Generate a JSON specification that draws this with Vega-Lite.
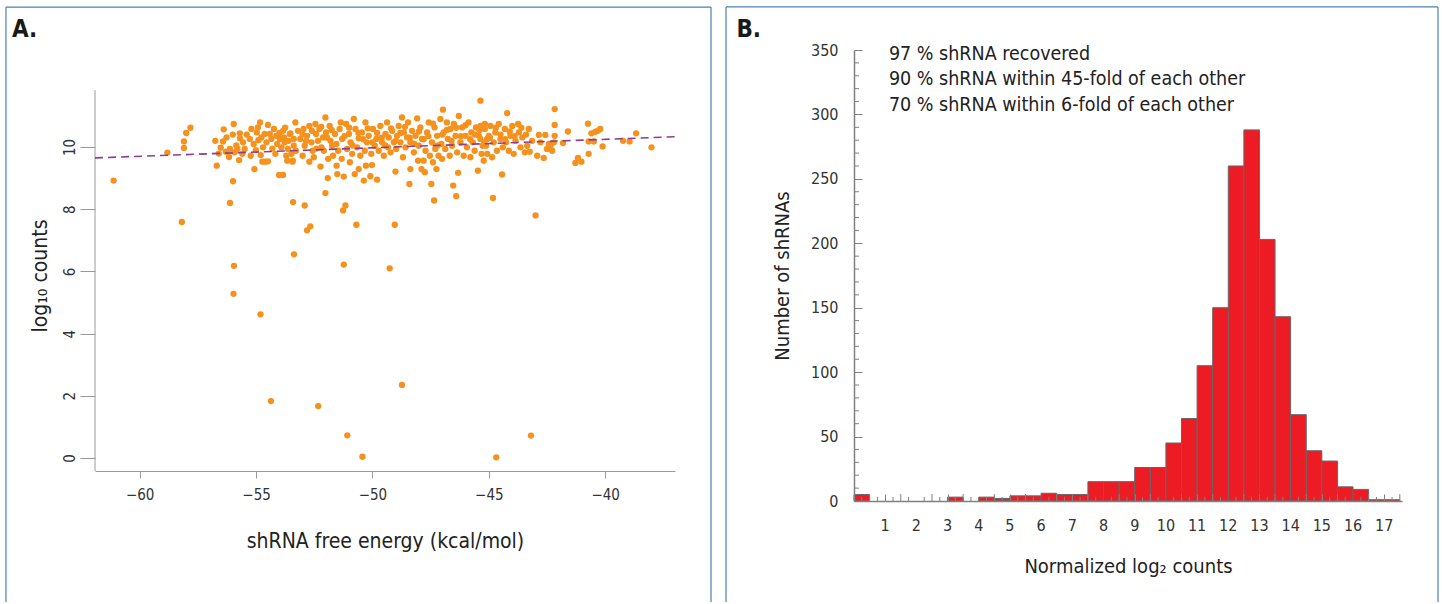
{
  "$schema": "https://vega.github.io/schema/vega-lite/v6.json",
  "autosize": {"type": "pad"},
  "padding": {"left": 5, "top": 6, "right": 0, "bottom": 0},
  "background": "white",
  "spacing": 13,
  "bounds": "full",
  "config": {
    "view": {"stroke": null},
    "axis": {"grid": false, "labelFont": "DejaVu Sans Condensed, Roboto Condensed, Roboto, sans-serif", "titleFont": "DejaVu Sans Condensed, Roboto Condensed, Roboto, sans-serif", "titleFontWeight": "normal", "labelColor": "#333333", "titleColor": "#222222"},
    "text": {"font": "DejaVu Sans Condensed, Roboto Condensed, Roboto, sans-serif"}
  },
  "hconcat": [
    {
      "width": 580,
      "height": 451,
      "layer": [
        {
          "data": {"values": [
{"energy":-61.12,"counts":8.92},{"energy":-58.81,"counts":9.82},{"energy":-58.19,"counts":7.59},{"energy":-58.10,"counts":9.97},{"energy":-58.10,"counts":10.18},{"energy":-58.00,"counts":10.45},{"energy":-57.82,"counts":10.62},{"energy":-56.75,"counts":10.20},{"energy":-56.69,"counts":9.40},{"energy":-56.60,"counts":9.79},{"energy":-56.52,"counts":9.98},{"energy":-56.42,"counts":10.18},{"energy":-56.39,"counts":10.57},{"energy":-56.27,"counts":10.31},{"energy":-56.16,"counts":9.68},{"energy":-56.12,"counts":9.94},{"energy":-56.12,"counts":8.20},{"energy":-55.99,"counts":8.90},{"energy":-55.96,"counts":10.74},{"energy":-55.92,"counts":9.83},{"energy":-55.80,"counts":9.94},{"energy":-55.73,"counts":9.58},{"energy":-55.70,"counts":10.44},{"energy":-55.69,"counts":10.28},{"energy":-55.59,"counts":9.78},{"energy":-55.56,"counts":10.15},{"energy":-55.49,"counts":9.94},{"energy":-55.27,"counts":10.26},{"energy":-55.23,"counts":9.72},{"energy":-55.20,"counts":10.58},{"energy":-55.07,"counts":9.29},{"energy":-55.01,"counts":9.90},{"energy":-54.97,"counts":10.47},{"energy":-54.92,"counts":10.63},{"energy":-54.83,"counts":10.79},{"energy":-54.80,"counts":9.74},{"energy":-54.77,"counts":10.31},{"energy":-54.73,"counts":9.53},{"energy":-54.70,"counts":9.99},{"energy":-54.63,"counts":10.42},{"energy":-54.60,"counts":9.53},{"energy":-54.49,"counts":9.54},{"energy":-54.49,"counts":10.71},{"energy":-54.41,"counts":10.42},{"energy":-54.34,"counts":10.26},{"energy":-54.23,"counts":10.58},{"energy":-54.17,"counts":9.78},{"energy":-54.13,"counts":10.36},{"energy":-54.09,"counts":10.10},{"energy":-54.01,"counts":9.10},{"energy":-53.97,"counts":10.26},{"energy":-53.91,"counts":9.99},{"energy":-53.84,"counts":9.10},{"energy":-53.84,"counts":10.52},{"energy":-53.80,"counts":10.31},{"energy":-53.77,"counts":10.15},{"energy":-53.70,"counts":9.72},{"energy":-53.66,"counts":9.56},{"energy":-53.63,"counts":9.94},{"energy":-53.55,"counts":10.42},{"energy":-53.48,"counts":9.78},{"energy":-53.44,"counts":9.53},{"energy":-53.41,"counts":8.23},{"energy":-53.37,"counts":6.55},{"energy":-53.38,"counts":10.26},{"energy":-53.38,"counts":10.04},
{"energy":-53.52,"counts":10.44},{"energy":-53.42,"counts":9.56},{"energy":-53.31,"counts":10.79},{"energy":-53.29,"counts":9.88},{"energy":-53.20,"counts":10.52},{"energy":-53.10,"counts":10.26},{"energy":-53.00,"counts":9.72},{"energy":-52.96,"counts":10.58},{"energy":-52.91,"counts":8.12},{"energy":-52.91,"counts":10.04},{"energy":-52.81,"counts":10.36},{"energy":-52.81,"counts":7.32},{"energy":-52.71,"counts":10.68},{"energy":-52.71,"counts":9.53},{"energy":-52.67,"counts":7.45},{"energy":-52.62,"counts":10.15},{"energy":-52.57,"counts":9.88},{"energy":-52.52,"counts":9.67},{"energy":-52.45,"counts":10.74},{"energy":-52.42,"counts":10.42},{"energy":-52.34,"counts":10.20},{"energy":-52.28,"counts":10.58},{"energy":-52.23,"counts":9.37},{"energy":-52.19,"counts":9.99},{"energy":-52.12,"counts":10.31},{"energy":-52.09,"counts":9.88},{"energy":-52.02,"counts":10.95},{"energy":-52.02,"counts":8.52},{"energy":-51.99,"counts":10.47},{"energy":-51.92,"counts":9.00},{"energy":-51.90,"counts":9.62},{"energy":-51.84,"counts":10.68},{"energy":-51.80,"counts":10.20},{"energy":-51.73,"counts":10.04},{"energy":-51.69,"counts":9.72},{"energy":-51.61,"counts":10.42},{"energy":-51.54,"counts":9.40},{"energy":-51.51,"counts":9.13},{"energy":-51.47,"counts":9.88},{"energy":-51.41,"counts":10.58},{"energy":-51.36,"counts":10.79},{"energy":-51.32,"counts":9.62},{"energy":-51.30,"counts":10.26},{"energy":-51.26,"counts":7.96},{"energy":-51.23,"counts":9.05},{"energy":-51.16,"counts":8.12},{"energy":-51.13,"counts":10.74},{"energy":-51.09,"counts":9.94},{"energy":-51.01,"counts":10.42},{"energy":-50.97,"counts":9.51},{"energy":-50.94,"counts":10.15},{"energy":-50.87,"counts":9.78},{"energy":-50.80,"counts":10.90},{"energy":-50.76,"counts":9.13},{"energy":-50.73,"counts":10.58},{"energy":-50.69,"counts":7.50},{"energy":-50.66,"counts":9.99},{"energy":-50.59,"counts":10.28},{"energy":-50.59,"counts":9.29},{"energy":-50.52,"counts":9.72},{"energy":-50.45,"counts":10.47},{"energy":-50.37,"counts":8.92},{"energy":-50.33,"counts":9.88},{"energy":-50.30,"counts":10.79},{"energy":-50.28,"counts":9.40},{"energy":-50.24,"counts":10.15},{"energy":-50.16,"counts":10.36},{"energy":-50.09,"counts":9.06},{"energy":-50.05,"counts":9.78},{"energy":-50.02,"counts":9.42},{"energy":-49.98,"counts":10.58},{"energy":-49.90,"counts":10.04},{"energy":-49.83,"counts":10.26},{"energy":-49.80,"counts":8.95},{"energy":-49.73,"counts":9.88},{"energy":-49.66,"counts":10.68},{"energy":-49.59,"counts":10.15},{"energy":-49.51,"counts":9.72},{"energy":-49.44,"counts":10.42},{"energy":-49.37,"counts":10.79},{"energy":-49.33,"counts":9.99},{"energy":-49.30,"counts":10.31},{"energy":-49.22,"counts":9.83},{"energy":-49.15,"counts":10.52},{"energy":-49.08,"counts":10.15},{"energy":-49.04,"counts":7.50},{"energy":-49.01,"counts":9.21},{"energy":-48.98,"counts":9.94},{"energy":-48.94,"counts":10.36},{"energy":-48.87,"counts":10.68},{"energy":-48.80,"counts":10.15},{"energy":-48.73,"counts":10.95},{"energy":-48.69,"counts":9.67},{"energy":-48.65,"counts":10.47},{"energy":-48.58,"counts":9.99},{"energy":-48.51,"counts":10.31},{"energy":-48.47,"counts":10.79},{"energy":-48.41,"counts":8.81},{"energy":-48.37,"counts":9.29},{"energy":-48.37,"counts":10.15},{"energy":-48.30,"counts":10.52},{"energy":-48.22,"counts":9.83},{"energy":-48.15,"counts":10.36},{"energy":-48.08,"counts":10.92},{"energy":-48.04,"counts":9.56},{"energy":-48.01,"counts":10.04},{"energy":-47.94,"counts":10.63},{"energy":-47.89,"counts":9.29},{"energy":-47.87,"counts":10.26},{"energy":-47.80,"counts":9.56},{"energy":-47.75,"counts":9.19},{"energy":-47.72,"counts":9.88},{"energy":-47.65,"counts":10.47},{"energy":-47.58,"counts":10.79},{"energy":-47.53,"counts":9.72},{"energy":-47.47,"counts":8.81},{"energy":-47.44,"counts":10.15},{"energy":-47.40,"counts":9.51},{"energy":-47.35,"counts":8.28},{"energy":-47.33,"counts":10.63},{"energy":-47.30,"counts":9.94},{"energy":-47.25,"counts":9.29},{"energy":-47.22,"counts":10.36},{"energy":-47.16,"counts":9.72},{"energy":-47.08,"counts":10.90},{"energy":-47.04,"counts":10.10},{"energy":-47.01,"counts":9.62},{"energy":-46.97,"counts":11.20},{"energy":-46.94,"counts":10.47},{"energy":-46.87,"counts":9.94},{"energy":-46.80,"counts":10.79},{"energy":-46.76,"counts":10.26},{"energy":-46.68,"counts":9.72},{"energy":-46.65,"counts":10.58},{"energy":-46.58,"counts":10.04},{"energy":-46.53,"counts":8.76},{"energy":-46.50,"counts":10.74},{"energy":-46.43,"counts":10.36},{"energy":-46.40,"counts":8.42},{"energy":-46.36,"counts":9.83},{"energy":-46.32,"counts":9.17},{"energy":-46.29,"counts":11.00},{"energy":-46.22,"counts":10.15},{"energy":-46.15,"counts":10.63},{"energy":-46.08,"counts":9.72},{"energy":-46.00,"counts":10.36},{"energy":-45.94,"counts":9.99},{"energy":-45.87,"counts":10.79},{"energy":-45.79,"counts":9.67},{"energy":-45.75,"counts":10.47},{"energy":-45.69,"counts":10.15},{"energy":-45.61,"counts":9.88},{"energy":-45.55,"counts":10.63},{"energy":-45.47,"counts":9.24},{"energy":-45.43,"counts":10.36},{"energy":-45.36,"counts":11.49},{"energy":-45.31,"counts":9.78},{"energy":-45.26,"counts":10.04},{"energy":-45.17,"counts":10.74},{"energy":-45.07,"counts":10.26},
{"energy":-45.36,"counts":10.68},{"energy":-45.36,"counts":10.26},{"energy":-45.22,"counts":9.56},{"energy":-45.17,"counts":10.58},{"energy":-45.12,"counts":10.04},{"energy":-45.07,"counts":9.78},{"energy":-45.00,"counts":10.36},{"energy":-44.93,"counts":10.68},{"energy":-44.86,"counts":9.67},{"energy":-44.82,"counts":8.36},{"energy":-44.79,"counts":10.15},{"energy":-44.72,"counts":10.47},{"energy":-44.65,"counts":9.88},{"energy":-44.57,"counts":10.74},{"energy":-44.50,"counts":10.26},{"energy":-44.43,"counts":9.12},{"energy":-44.40,"counts":9.99},{"energy":-44.31,"counts":10.58},{"energy":-44.26,"counts":10.15},{"energy":-44.21,"counts":11.09},{"energy":-44.14,"counts":9.88},{"energy":-44.07,"counts":10.36},{"energy":-43.99,"counts":10.68},{"energy":-43.93,"counts":9.78},{"energy":-43.85,"counts":10.20},{"energy":-43.74,"counts":10.74},{"energy":-43.71,"counts":10.47},{"energy":-43.64,"counts":9.99},{"energy":-43.56,"counts":10.31},{"energy":-43.45,"counts":9.83},{"energy":-43.35,"counts":10.04},{"energy":-43.28,"counts":10.58},{"energy":-43.24,"counts":9.85},{"energy":-43.14,"counts":10.20},{"energy":-42.99,"counts":7.80},{"energy":-42.92,"counts":9.72},{"energy":-42.85,"counts":10.39},{"energy":-42.78,"counts":10.15},{"energy":-42.64,"counts":9.65},{"energy":-42.57,"counts":10.39},{"energy":-42.50,"counts":9.94},{"energy":-42.42,"counts":10.10},{"energy":-42.35,"counts":10.04},{"energy":-42.28,"counts":9.88},{"energy":-42.21,"counts":10.15},{"energy":-42.17,"counts":10.36},{"energy":-42.17,"counts":10.71},{"energy":-42.17,"counts":11.22},{"energy":-41.81,"counts":10.13},{"energy":-41.60,"counts":10.50},{"energy":-41.28,"counts":9.49},{"energy":-41.17,"counts":9.65},{"energy":-41.02,"counts":9.53},{"energy":-40.74,"counts":10.75},{"energy":-40.71,"counts":10.18},{"energy":-40.71,"counts":9.78},{"energy":-40.59,"counts":10.44},{"energy":-40.49,"counts":10.18},{"energy":-40.42,"counts":10.49},{"energy":-40.31,"counts":10.52},{"energy":-40.21,"counts":10.58},{"energy":-40.11,"counts":10.02},{"energy":-39.23,"counts":10.20},{"energy":-38.95,"counts":10.18},{"energy":-38.67,"counts":10.44},{"energy":-38.01,"counts":9.99},
{"energy":-53.00,"counts":10.40},{"energy":-52.85,"counts":10.20},{"energy":-52.60,"counts":10.52},{"energy":-52.40,"counts":9.95},{"energy":-52.20,"counts":10.65},{"energy":-51.95,"counts":10.30},{"energy":-51.75,"counts":10.55},{"energy":-51.55,"counts":10.10},{"energy":-51.20,"counts":10.35},{"energy":-51.00,"counts":10.62},{"energy":-50.85,"counts":10.05},{"energy":-50.60,"counts":10.45},{"energy":-50.40,"counts":10.25},{"energy":-50.20,"counts":10.60},{"energy":-50.00,"counts":10.15},{"energy":-49.80,"counts":10.45},{"energy":-49.60,"counts":10.30},{"energy":-49.45,"counts":10.05},{"energy":-49.20,"counts":10.60},{"energy":-49.00,"counts":10.20},{"energy":-48.80,"counts":10.45},{"energy":-48.60,"counts":10.65},{"energy":-48.40,"counts":10.30},{"energy":-48.20,"counts":10.10},{"energy":-48.00,"counts":10.50},{"energy":-47.80,"counts":10.25},{"energy":-47.60,"counts":10.35},{"energy":-47.40,"counts":10.75},{"energy":-47.20,"counts":10.05},{"energy":-47.00,"counts":10.40},{"energy":-46.80,"counts":10.55},{"energy":-46.60,"counts":10.20},{"energy":-46.40,"counts":10.62},{"energy":-46.20,"counts":10.35},{"energy":-46.00,"counts":10.70},{"energy":-45.80,"counts":10.25},{"energy":-45.60,"counts":10.40},{"energy":-45.40,"counts":10.55},{"energy":-45.20,"counts":10.15},{"energy":-44.95,"counts":10.30},{"energy":-44.70,"counts":10.62},{"energy":-44.50,"counts":10.40},{"energy":-44.30,"counts":10.25},{"energy":-44.10,"counts":10.50},{"energy":-43.90,"counts":10.35},{"energy":-43.60,"counts":10.62},{"energy":-43.40,"counts":10.40},{"energy":-55.40,"counts":10.40},{"energy":-55.10,"counts":10.10},{"energy":-54.90,"counts":10.22},{"energy":-54.55,"counts":10.15},{"energy":-54.30,"counts":9.95},{"energy":-54.00,"counts":10.45},{"energy":-53.75,"counts":10.62},{"energy":-53.60,"counts":10.20},{"energy":-56.00,"counts":10.40},{"energy":-56.30,"counts":9.85},{"energy":-55.85,"counts":10.05},
{"energy":-55.95,"counts":6.18},{"energy":-55.97,"counts":5.28},{"energy":-54.81,"counts":4.62},{"energy":-54.36,"counts":1.83},{"energy":-52.33,"counts":1.67},{"energy":-51.08,"counts":0.73},{"energy":-50.43,"counts":0.04},{"energy":-51.23,"counts":6.22},{"energy":-49.26,"counts":6.10},{"energy":-48.73,"counts":2.35},{"energy":-44.68,"counts":0.02},{"energy":-43.19,"counts":0.72}
          ]},
          "mark": {"type": "circle", "size": 40, "color": "#f5921e", "opacity": 1},
          "encoding": {
            "x": {"field": "energy", "type": "quantitative", "scale": {"domain": [-61.92, -37.0], "nice": false, "zero": false},
              "axis": {"values": [-60, -55, -50, -45, -40], "offset": -30, "tickSize": 7, "labelPadding": 9, "labelFontSize": 15, "domainColor": "#9a9a9a", "tickColor": "#9a9a9a", "title": "shRNA free energy (kcal/mol)", "titleFontSize": 21, "titlePadding": 28}},
            "y": {"field": "counts", "type": "quantitative", "scale": {"domain": [-1.383, 13.12], "nice": false, "zero": false},
              "axis": {"values": [0, 2, 4, 6, 8, 10], "domain": true, "domainOpacity": 0, "ticks": true, "tickSize": 15, "labelAngle": -90, "labelAlign": "center", "labelBaseline": "bottom", "labelPadding": 3, "labelFontSize": 15, "tickColor": "#9a9a9a", "title": "log₁₀ counts", "titleFontSize": 21, "titlePadding": 12}}
          }
        },
        {
          "data": {"values": [{"energy": -61.92, "counts": -0.42, "counts2": 11.83}]},
          "mark": {"type": "rule", "color": "#9a9a9a", "strokeWidth": 1},
          "encoding": {"x": {"field": "energy", "type": "quantitative"}, "y": {"field": "counts", "type": "quantitative"}, "y2": {"field": "counts2"}}
        },
        {
          "data": {"values": [{"energy": -61.92, "counts": 9.65}, {"energy": -37.0, "counts": 10.33}]},
          "mark": {"type": "line", "color": "#8e3d96", "strokeWidth": 1.6, "strokeDash": [8, 5]},
          "encoding": {"x": {"field": "energy", "type": "quantitative"}, "y": {"field": "counts", "type": "quantitative"}}
        },
        {
          "data": {"values": [{"label": "A.", "energy": -65.49, "counts": 13.53}]},
          "mark": {"type": "text", "align": "left", "baseline": "alphabetic", "fontSize": 24, "fontWeight": "bold", "color": "#1a1a1a"},
          "encoding": {"x": {"field": "energy", "type": "quantitative"}, "y": {"field": "counts", "type": "quantitative"}, "text": {"field": "label"}}
        },
        {
          "data": {"values": [{"energy": -65.745, "energy2": -35.453, "counts": 14.5}]},
          "mark": {"type": "rule", "color": "#4a80b6", "strokeWidth": 1.2},
          "encoding": {"x": {"field": "energy", "type": "quantitative"}, "x2": {"field": "energy2"}, "y": {"field": "counts", "type": "quantitative"}}
        },
        {
          "data": {"values": [{"energy": -65.745, "counts": 14.5, "counts2": -4.63}, {"energy": -35.453, "counts": 14.5, "counts2": -4.63}]},
          "mark": {"type": "rule", "color": "#4a80b6", "strokeWidth": 1.2},
          "encoding": {"x": {"field": "energy", "type": "quantitative"}, "y": {"field": "counts", "type": "quantitative"}, "y2": {"field": "counts2"}}
        }
      ]
    },
    {
      "width": 548,
      "height": 451,
      "layer": [
        {
          "data": {"values": [
{"start":0,"end":0.5,"count":5},{"start":3,"end":3.5,"count":3},{"start":4,"end":4.5,"count":3},{"start":4.5,"end":5,"count":2},{"start":5,"end":5.5,"count":4},{"start":5.5,"end":6,"count":4},{"start":6,"end":6.5,"count":6},{"start":6.5,"end":7,"count":5},{"start":7,"end":7.5,"count":5},{"start":7.5,"end":8,"count":15},{"start":8,"end":8.5,"count":15},{"start":8.5,"end":9,"count":15},{"start":9,"end":9.5,"count":26},{"start":9.5,"end":10,"count":26},{"start":10,"end":10.5,"count":45},{"start":10.5,"end":11,"count":64},{"start":11,"end":11.5,"count":105},{"start":11.5,"end":12,"count":150},{"start":12,"end":12.5,"count":260},{"start":12.5,"end":13,"count":288},{"start":13,"end":13.5,"count":203},{"start":13.5,"end":14,"count":143},{"start":14,"end":14.5,"count":67},{"start":14.5,"end":15,"count":39},{"start":15,"end":15.5,"count":31},{"start":15.5,"end":16,"count":11},{"start":16,"end":16.5,"count":9},{"start":16.5,"end":17,"count":1},{"start":17,"end":17.5,"count":1}
          ]},
          "mark": {"type": "rect", "fill": "#ed1c24", "stroke": "#666666", "strokeWidth": 1},
          "encoding": {
            "x": {"field": "start", "type": "quantitative", "scale": {"domain": [0, 17.57], "nice": false, "zero": false},
              "axis": {"values": [1,2,3,4,5,6,7,8,9,10,11,12,13,14,15,16,17], "labels": false, "zindex": 1, "tickSize": -7, "domainColor": "#808080", "domainWidth": 1.5, "tickColor": "#808080", "title": "Normalized log₂ counts", "titleFontSize": 20, "titlePadding": 55}},
            "x2": {"field": "end"},
            "y": {"field": "count", "type": "quantitative", "scale": {"domain": [0, 350], "nice": false, "zero": false},
              "axis": {"values": [0,50,100,150,200,250,300,350], "labelOverlap": false, "zindex": 1, "tickSize": -8, "labelPadding": 24, "labelFontSize": 16, "domainColor": "#808080", "domainWidth": 1.5, "tickColor": "#808080", "title": "Number of shRNAs", "titleFontSize": 20, "titlePadding": 18}},
            "y2": {"datum": 0}
          }
        },
        {
          "data": {"values": [{"start":1},{"start":2},{"start":3},{"start":4},{"start":5},{"start":6},{"start":7},{"start":8},{"start":9},{"start":10},{"start":11},{"start":12},{"start":13},{"start":14},{"start":15},{"start":16},{"start":17}]},
          "mark": {"type": "text", "align": "center", "baseline": "middle", "fontSize": 16, "color": "#333333"},
          "encoding": {"x": {"field": "start", "type": "quantitative"}, "y": {"datum": -19.4, "type": "quantitative"}, "text": {"field": "start", "type": "quantitative"}}
        },
        {
          "data": {"values": [{"count":10},{"count":20},{"count":30},{"count":40},{"count":60},{"count":70},{"count":80},{"count":90},{"count":110},{"count":120},{"count":130},{"count":140},{"count":160},{"count":170},{"count":180},{"count":190},{"count":210},{"count":220},{"count":230},{"count":240},{"count":260},{"count":270},{"count":280},{"count":290},{"count":310},{"count":320},{"count":330},{"count":340}]},
          "mark": {"type": "rule", "color": "#808080", "strokeWidth": 1},
          "encoding": {"y": {"field": "count", "type": "quantitative"}, "x": {"datum": 0, "type": "quantitative"}, "x2": {"datum": 0.16}}
        },
        {
          "data": {"values": [{"start":0.5},{"start":1.5},{"start":2.5},{"start":3.5},{"start":4.5},{"start":5.5},{"start":6.5},{"start":7.5},{"start":8.5},{"start":9.5},{"start":10.5},{"start":11.5},{"start":12.5},{"start":13.5},{"start":14.5},{"start":15.5},{"start":16.5},{"start":17.5}]},
          "mark": {"type": "rule", "color": "#808080", "strokeWidth": 1},
          "encoding": {"x": {"field": "start", "type": "quantitative"}, "y": {"datum": 0, "type": "quantitative"}, "y2": {"datum": 5.4}}
        },
        {
          "data": {"values": [{"start":0.25},{"start":0.75},{"start":1.25},{"start":1.75},{"start":2.25},{"start":2.75},{"start":3.25},{"start":3.75},{"start":4.25},{"start":4.75},{"start":5.25},{"start":5.75},{"start":6.25},{"start":6.75},{"start":7.25},{"start":7.75},{"start":8.25},{"start":8.75},{"start":9.25},{"start":9.75},{"start":10.25},{"start":10.75},{"start":11.25},{"start":11.75},{"start":12.25},{"start":12.75},{"start":13.25},{"start":13.75},{"start":14.25},{"start":14.75},{"start":15.25},{"start":15.75},{"start":16.25},{"start":16.75},{"start":17.25}]},
          "mark": {"type": "rule", "color": "#808080", "strokeWidth": 1},
          "encoding": {"x": {"field": "start", "type": "quantitative"}, "y": {"datum": 0, "type": "quantitative"}, "y2": {"datum": 3.2}}
        },
        {
          "data": {"values": [{"label": "B.", "start": -3.77, "count": 360.1}]},
          "mark": {"type": "text", "align": "left", "baseline": "alphabetic", "fontSize": 24, "fontWeight": "bold", "color": "#1a1a1a"},
          "encoding": {"x": {"field": "start", "type": "quantitative"}, "y": {"field": "count", "type": "quantitative"}, "text": {"field": "label"}}
        },
        {
          "data": {"values": [{"start": 1.12, "count": 342.2}]},
          "mark": {"type": "text", "align": "left", "baseline": "alphabetic", "fontSize": 19.5, "lineHeight": 25.3, "color": "#222222", "text": ["97 % shRNA recovered", "90 % shRNA within 45-fold of each other", "70 % shRNA within 6-fold of each other"]},
          "encoding": {"x": {"field": "start", "type": "quantitative"}, "y": {"field": "count", "type": "quantitative"}}
        },
        {
          "data": {"values": [{"start": -4.104, "start2": 18.724, "count": 383.4}]},
          "mark": {"type": "rule", "color": "#4a80b6", "strokeWidth": 1.2},
          "encoding": {"x": {"field": "start", "type": "quantitative"}, "x2": {"field": "start2"}, "y": {"field": "count", "type": "quantitative"}}
        },
        {
          "data": {"values": [{"start": -4.104, "count": 383.4, "count2": -78.4}, {"start": 18.724, "count": 383.4, "count2": -78.4}]},
          "mark": {"type": "rule", "color": "#4a80b6", "strokeWidth": 1.2},
          "encoding": {"x": {"field": "start", "type": "quantitative"}, "y": {"field": "count", "type": "quantitative"}, "y2": {"field": "count2"}}
        }
      ]
    }
  ]
}
